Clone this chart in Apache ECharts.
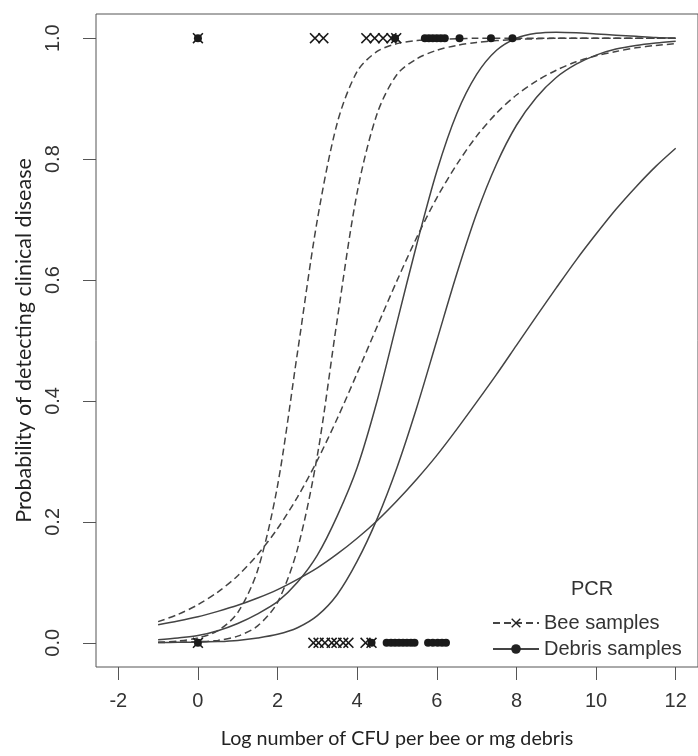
<!DOCTYPE html>
<html>
<head>
<meta charset="utf-8">
<script src="https://cdn.jsdelivr.net/npm/echarts@6/dist/echarts.min.js"></script>
<style>html,body{margin:0;padding:0;background:#fff;}#c{width:698px;height:756px;}</style>
</head>
<body>
<div id="c"></div>
<script>
// x positions (log CFU) at which curves were read
const xGrid = [-1,-0.5,0,0.5,1,1.5,2,2.5,3,3.5,4,4.5,5,5.5,6,6.5,7,7.5,8,8.5,9,9.5,10,10.5,11,11.5,12];
// Bee samples (dashed) fitted curves
const beeCurve1 = [0.001,0.003,0.008,0.02,0.05,0.12,0.26,0.48,0.70,0.86,0.945,0.978,0.991,0.996,0.998,0.999,1,1,1,1,1,1,1,1,1,1,1];
const beeCurve2 = [0.0005,0.001,0.002,0.004,0.011,0.028,0.067,0.155,0.31,0.535,0.745,0.875,0.94,0.966,0.98,0.988,0.993,0.996,0.998,0.999,1,1,1,1,1,1,1];
const beeCurve3 = [0.035,0.047,0.063,0.084,0.111,0.146,0.189,0.241,0.302,0.371,0.446,0.523,0.599,0.671,0.736,0.791,0.838,0.876,0.906,0.929,0.947,0.961,0.971,0.978,0.984,0.988,0.991];
// Debris samples (solid) fitted curves
const debrisCurve1 = [0.005,0.008,0.012,0.02,0.032,0.048,0.068,0.10,0.145,0.21,0.29,0.40,0.53,0.66,0.78,0.875,0.94,0.98,1.0,1.008,1.01,1.009,1.007,1.005,1.003,1.001,1.0];
const debrisCurve2 = [0.0005,0.0008,0.001,0.002,0.004,0.008,0.014,0.025,0.045,0.08,0.135,0.205,0.29,0.39,0.50,0.61,0.71,0.792,0.856,0.902,0.935,0.957,0.972,0.982,0.988,0.992,0.995];
const debrisCurve3 = [0.030,0.036,0.043,0.052,0.062,0.074,0.088,0.105,0.124,0.147,0.173,0.202,0.235,0.271,0.310,0.353,0.398,0.444,0.492,0.540,0.587,0.633,0.676,0.717,0.754,0.788,0.818];
// observed samples
const beeDiseased = [0, 2.94, 3.15, 4.23, 4.44, 4.65, 4.86, 4.98];
const beeHealthy = [0, 2.9, 3.03, 3.19, 3.36, 3.48, 3.65, 3.78, 4.21, 4.36];
const debrisDiseased = [0, 4.95, 5.7, 5.8, 5.9, 6.0, 6.1, 6.2, 6.57, 7.36, 7.9];
const debrisHealthy = [0, 4.36, 4.74, 4.85, 4.95, 5.05, 5.15, 5.25, 5.35, 5.44, 5.78, 5.9, 6.02, 6.13, 6.23];
const xTicks = [-2,0,2,4,6,8,10,12];
const yTicks = [0,0.2,0.4,0.6,0.8,1.0];

const xMark = 'path://M1,0L5,4L9,0L10,1L6,5L10,9L9,10L5,6L1,10L0,9L4,5L0,1Z';
const lineColor = '#444';
const font = 'Liberation Sans';

function curve(name, ys, dashed) {
  return {
    name: name, type: 'line', smooth: 0.3, showSymbol: false,
    symbol: dashed ? xMark : 'circle',
    data: xGrid.map((x, i) => [x, ys[i]]),
    lineStyle: {color: lineColor, width: 1.5, type: dashed ? [7, 4] : 'solid'},
    itemStyle: {color: '#222'},
    silent: true
  };
}
function pts(name, xs, y, sym, size) {
  return {
    name: name, type: 'scatter', symbol: sym, symbolSize: size,
    data: xs.map(x => [x, y]),
    itemStyle: {color: '#1a1a1a', opacity: 1}, z: 5, silent: true
  };
}

const chart = echarts.init(document.getElementById('c'), null, {renderer: 'canvas'});
chart.setOption({
  animation: false,
  backgroundColor: '#fff',
  title: {text: 'PCR', left: 566, top: 574, textStyle: {fontFamily: font, fontSize: 20, fontWeight: 'normal', color: '#333'}},
  legend: {
    orient: 'vertical', left: 487, top: 608, itemWidth: 46, itemHeight: 12, itemGap: 6,
    data: ['Bee samples', 'Debris samples'],
    textStyle: {fontFamily: font, fontSize: 20, color: '#333'}
  },
  grid: {left: 96, width: 604, top: 14, bottom: 89, show: true, borderColor: '#555', borderWidth: 1},
  xAxis: {
    type: 'value', min: -2.56, max: 12.56,
    name: 'Log number of CFU per bee or mg debris', nameLocation: 'middle', nameGap: 62,
    nameTextStyle: {fontFamily: 'Lato', fontSize: 19.7, color: '#222'},
    axisLine: {show: false, onZero: false},
    axisTick: {show: true, inside: false, length: 13, customValues: xTicks, lineStyle: {color: '#555'}},
    axisLabel: {customValues: xTicks, margin: 24, fontFamily: font, fontSize: 20, color: '#333', formatter: v => String(v)},
    splitLine: {show: false}
  },
  yAxis: {
    type: 'value', min: -0.04, max: 1.04,
    name: 'Probability of detecting clinical disease', nameLocation: 'middle', nameGap: 60, nameRotate: 90,
    nameTextStyle: {fontFamily: 'Lato', fontSize: 21.5, color: '#222'},
    axisLine: {show: false, onZero: false},
    axisTick: {show: true, inside: false, length: 13, customValues: yTicks, lineStyle: {color: '#555'}},
    axisLabel: {customValues: yTicks, rotate: 90, margin: 33, fontFamily: font, fontSize: 20, color: '#333', formatter: v => v.toFixed(1)},
    splitLine: {show: false}
  },
  series: [
    curve('Bee samples', beeCurve1, true),
    curve('Bee samples', beeCurve2, true),
    curve('Bee samples', beeCurve3, true),
    curve('Debris samples', debrisCurve1, false),
    curve('Debris samples', debrisCurve2, false),
    curve('Debris samples', debrisCurve3, false),
    pts('beeTop', beeDiseased, 1, xMark, 11),
    pts('beeBottom', beeHealthy, 0, xMark, 11),
    pts('debrisTop', debrisDiseased, 1, 'circle', 8),
    pts('debrisBottom', debrisHealthy, 0, 'circle', 8)
  ]
});
</script>
</body>
</html>
